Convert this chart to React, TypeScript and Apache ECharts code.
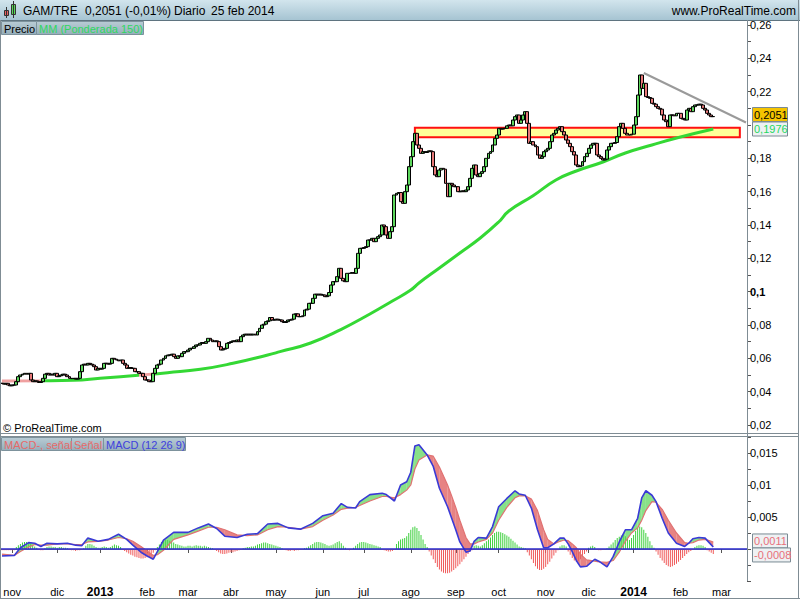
import React, { useEffect, useRef } from 'react';
import * as echarts from 'echarts';

const FONT = '"Liberation Sans", Arial, sans-serif';

// ---------- DATA ----------
const monthNames = ['ene', 'feb', 'mar', 'abr', 'may', 'jun', 'jul', 'ago', 'sep', 'oct', 'nov', 'dic'];
const firstDay = Date.UTC(2012, 9, 25);
const slotCount = 365;

// daily closes, 25 oct 2012 .. 25 feb 2014
const closes = [
  0.045, 0.0445, 0.045, 0.044, 0.0435, 0.044, 0.044, 0.046, 0.049, 0.050,
  0.0505, 0.051, 0.0505, 0.051, 0.047, 0.046, 0.0465, 0.046, 0.0455, 0.046,
  0.048, 0.0505, 0.051, 0.050, 0.0505, 0.050, 0.051, 0.049, 0.0495, 0.050,
  0.0505, 0.050, 0.049, 0.048, 0.0478, 0.048, 0.0475, 0.048, 0.052, 0.056,
  0.0565, 0.056, 0.057, 0.0565, 0.056, 0.055, 0.053, 0.054, 0.0535, 0.054,
  0.057, 0.057, 0.0565, 0.057, 0.060, 0.0595, 0.059, 0.0585, 0.059, 0.057,
  0.056, 0.054, 0.0545, 0.054, 0.054, 0.052, 0.052, 0.051, 0.051, 0.049,
  0.047, 0.047, 0.046, 0.046, 0.051, 0.054, 0.056, 0.0565, 0.059, 0.060,
  0.0615, 0.062, 0.062, 0.0625, 0.061, 0.060, 0.0615, 0.061, 0.063, 0.064,
  0.064, 0.065, 0.066, 0.066, 0.067, 0.068, 0.068, 0.069, 0.0695, 0.069,
  0.070, 0.072, 0.071, 0.070, 0.0705, 0.070, 0.067, 0.065, 0.0655, 0.066,
  0.069, 0.0695, 0.070, 0.0705, 0.070, 0.071, 0.070, 0.073, 0.074, 0.0745,
  0.074, 0.0745, 0.074, 0.0745, 0.074, 0.076, 0.078, 0.080, 0.0805, 0.082,
  0.0825, 0.0845, 0.083, 0.083, 0.0835, 0.083, 0.083, 0.082, 0.0815, 0.082,
  0.083, 0.083, 0.0835, 0.0865, 0.0867, 0.085, 0.085, 0.0855, 0.089, 0.0895,
  0.093, 0.093, 0.096, 0.0985, 0.098, 0.0985, 0.098, 0.098, 0.097, 0.0975,
  0.0995, 0.104, 0.106, 0.106, 0.109, 0.114, 0.108, 0.1065, 0.106, 0.111,
  0.111, 0.1115, 0.111, 0.114, 0.123, 0.126, 0.126, 0.1265, 0.127, 0.131,
  0.131, 0.132, 0.130, 0.132, 0.133, 0.134, 0.140, 0.139, 0.134, 0.132,
  0.136, 0.139, 0.158, 0.159, 0.1595, 0.154, 0.153, 0.160, 0.164, 0.175,
  0.181, 0.190, 0.195, 0.188, 0.186, 0.183, 0.184, 0.1835, 0.184, 0.1845,
  0.184, 0.175, 0.170, 0.169, 0.173, 0.174, 0.1735, 0.165, 0.157, 0.165,
  0.164, 0.163, 0.163, 0.160, 0.160, 0.1605, 0.160, 0.161, 0.163, 0.168,
  0.174, 0.176, 0.170, 0.169, 0.171, 0.172, 0.175, 0.180, 0.183, 0.184,
  0.188, 0.192, 0.194, 0.198, 0.1975, 0.198, 0.198, 0.1995, 0.200, 0.1995,
  0.203, 0.205, 0.206, 0.201, 0.203, 0.206, 0.208, 0.201, 0.189, 0.190,
  0.188, 0.187, 0.182, 0.180, 0.181, 0.184, 0.185, 0.186, 0.190, 0.194,
  0.195, 0.197, 0.198, 0.199, 0.196, 0.194, 0.191, 0.189, 0.187, 0.184,
  0.182, 0.176, 0.175, 0.1755, 0.178, 0.181, 0.183, 0.186, 0.188, 0.189,
  0.189, 0.182, 0.181, 0.180, 0.179, 0.1795, 0.185, 0.187, 0.189, 0.189,
  0.1895, 0.193, 0.199, 0.201, 0.198, 0.195, 0.194, 0.194, 0.1945, 0.200,
  0.205, 0.218, 0.230, 0.222, 0.225, 0.217, 0.2165, 0.216, 0.213, 0.2125,
  0.211, 0.210, 0.2095, 0.206, 0.203, 0.202, 0.199, 0.206, 0.206, 0.2055,
  0.207, 0.207, 0.204, 0.2035, 0.203, 0.209, 0.210, 0.208, 0.211, 0.212,
  0.212, 0.2125, 0.212, 0.210, 0.209, 0.207, 0.206, 0.205, 0.2051,
];

// weighted moving average 150 [day index, value]
const maPoints = [
  [0, 0.0464], [19, 0.0465], [35, 0.0468], [48, 0.048], [68, 0.05], [81, 0.0514],
  [97, 0.0534], [113, 0.057], [130, 0.062], [136, 0.064], [151, 0.0692], [166, 0.0774],
  [180, 0.0866], [191, 0.0944], [200, 0.101], [204, 0.1052], [214, 0.1142], [224, 0.1232],
  [234, 0.1322], [243, 0.1418], [248, 0.1484], [260, 0.1577], [271, 0.167], [281, 0.1724],
  [294, 0.1778], [305, 0.1832], [318, 0.188], [331, 0.1925], [348, 0.1976],
];
// day ranges where the average is drawn pink
const maPinkRanges = [[0, 19], [67, 75]];

// zone and trend line
const zoneLow = 0.1926;
const zoneHigh = 0.1984;
const zoneFrom = 202;
const zoneTo = 361;
const trendFrom = [314, 0.2312];
const trendTo = [364, 0.2015];

// MACD (12 26 9) and signal, at these day indexes
const macdIdx = [0, 6, 9, 13, 16, 19, 22, 27, 32, 36, 39, 42, 47, 52, 57, 61, 64, 68, 71, 74, 76, 79, 84, 91, 96, 101, 105, 109, 115, 120, 125, 130, 135, 140, 146, 152, 157, 162, 166, 169, 173, 175, 180, 186, 188, 192, 195, 198, 200, 202, 204, 208, 211, 214, 218, 220, 222, 224, 227, 229, 231, 233, 237, 240, 243, 247, 251, 253, 256, 259, 262, 265, 267, 270, 273, 275, 277, 279, 281, 283, 286, 290, 292, 296, 299, 302, 305, 308, 311, 313, 315, 318, 320, 323, 326, 330, 334, 336, 338, 341, 344, 346, 348];
const macdVals = [-0.0011, -0.0010, 0.0002, 0.0010, 0.0009, 0.0004, 0.0009, 0.0008, 0.0009, 0.0006, 0.0005, 0.0017, 0.0012, 0.0015, 0.0023, 0.0015, 0.0006, -0.0005, -0.0011, -0.0016, -0.0004, 0.0014, 0.0026, 0.0026, 0.0033, 0.0039, 0.0032, 0.0020, 0.0018, 0.0023, 0.0024, 0.0039, 0.0040, 0.0033, 0.0031, 0.0040, 0.0052, 0.0056, 0.0071, 0.0065, 0.0064, 0.0074, 0.0085, 0.0087, 0.0085, 0.0075, 0.0100, 0.0105, 0.0120, 0.0161, 0.0163, 0.0147, 0.0129, 0.0095, 0.0066, 0.0048, 0.0030, 0.0011, -0.0005, -0.0003, 0.0012, 0.0018, 0.0017, 0.0035, 0.0066, 0.0079, 0.0091, 0.0086, 0.0084, 0.0064, 0.0030, 0.0002, 0.0002, 0.0008, 0.0017, 0.0017, 0.0008, -0.0004, -0.0018, -0.0028, -0.0027, -0.0016, -0.0019, -0.0028, -0.0012, 0.0011, 0.0030, 0.0030, 0.0048, 0.0080, 0.0091, 0.0084, 0.0074, 0.0048, 0.0025, 0.0009, 0.0004, 0.0009, 0.0016, 0.0018, 0.0017, 0.0010, 0.0003];
const signalVals = [-0.0008, -0.0010, -0.0004, 0.0003, 0.0007, 0.0006, 0.0006, 0.0008, 0.0008, 0.0007, 0.0007, 0.0011, 0.0012, 0.0014, 0.0018, 0.0016, 0.0012, 0.0004, -0.0003, -0.0010, -0.0009, -0.0002, 0.0015, 0.0022, 0.0028, 0.0034, 0.0034, 0.0030, 0.0022, 0.0021, 0.0022, 0.0030, 0.0035, 0.0034, 0.0031, 0.0035, 0.0045, 0.0053, 0.0062, 0.0064, 0.0065, 0.0068, 0.0075, 0.0082, 0.0082, 0.0080, 0.0085, 0.0092, 0.0100, 0.0125, 0.0139, 0.0147, 0.0145, 0.0128, 0.0100, 0.0083, 0.0065, 0.0045, 0.0018, 0.0008, 0.0008, 0.0011, 0.0015, 0.0025, 0.0045, 0.0065, 0.0080, 0.0083, 0.0083, 0.0078, 0.0060, 0.0030, 0.0015, 0.0008, 0.0012, 0.0014, 0.0013, 0.0008, 0.0002, -0.0008, -0.0017, -0.0019, -0.0020, -0.0021, -0.0018, -0.0005, 0.0012, 0.0025, 0.0033, 0.0045, 0.0060, 0.0074, 0.0073, 0.0062, 0.0045, 0.0025, 0.0010, 0.0009, 0.0010, 0.0014, 0.0015, 0.0013, 0.0011];

// daily histogram "MACD-, señal"
const histogram = [
  -0.0002, -0.0002, -0.0002, -0.0002, -0.0002, -0.0002, -0.0002,
  0.0003, 0.0006, 0.0008, 0.0010, 0.0011, 0.0011, 0.0010, 0.0008, 0.0006, 0.0004,
  0.0002, -0.0001, -0.0002, -0.0002, 0.0001,
  0.0003, 0.0004, 0.0004, 0.0003, 0.0003, 0.0002, 0.0003, 0.0003, 0.0002, 0.0002, 0.0001,
  -0.0001, -0.0002, -0.0002, -0.0003, -0.0002, -0.0002, -0.0001, 0.0001,
  0.0005, 0.0008, 0.0008, 0.0007, 0.0005, 0.0003, 0.0002,
  0.0002, 0.0003, 0.0004, 0.0003, 0.0002, 0.0003, 0.0005, 0.0007, 0.0006, 0.0005, 0.0003,
  -0.0001, -0.0003, -0.0005, -0.0007, -0.0009, -0.0010, -0.0012, -0.0013, -0.0014, -0.0015, -0.0015, -0.0014, -0.0013, -0.0012, -0.0010, -0.0006, -0.0002,
  0.0003, 0.0007, 0.0011, 0.0013, 0.0014, 0.0014, 0.0013, 0.0012, 0.0010, 0.0008, 0.0007, 0.0006, 0.0005, 0.0004,
  0.0004, 0.0005, 0.0005, 0.0004, 0.0005, 0.0006, 0.0005, 0.0005, 0.0004, 0.0005, 0.0004, 0.0003, 0.0002, 0.0001, -0.0001,
  -0.0003, -0.0005, -0.0007, -0.0008, -0.0008, -0.0007, -0.0006, -0.0005, -0.0005, -0.0004, -0.0003, -0.0002, -0.0001, 0.0001,
  0.0002, 0.0003, 0.0003, 0.0004, 0.0004, 0.0005, 0.0007, 0.0008, 0.0009, 0.0010, 0.0010, 0.0009, 0.0008, 0.0007, 0.0006, 0.0005, 0.0004, 0.0003, 0.0001,
  -0.0001, -0.0002, -0.0003, -0.0003, -0.0002, -0.0003, -0.0002, -0.0002, -0.0001, -0.0001, 0.0001, 0.0002,
  0.0004, 0.0006, 0.0008, 0.0010, 0.0011, 0.0011, 0.0010, 0.0009, 0.0008, 0.0006, 0.0005, 0.0006, 0.0007, 0.0009, 0.0011, 0.0012, 0.0009, 0.0005, 0.0002,
  -0.0001, -0.0002, -0.0001,
  0.0002, 0.0005, 0.0008, 0.0010, 0.0011, 0.0011, 0.0010, 0.0009, 0.0008, 0.0007, 0.0006, 0.0005, 0.0004, 0.0003,
  -0.0001, -0.0002, -0.0003, -0.0004, -0.0004, -0.0003, -0.0001,
  0.0008, 0.0012, 0.0015, 0.0016, 0.0017, 0.0020, 0.0025, 0.0030, 0.0034, 0.0035, 0.0033, 0.0028, 0.0022, 0.0015, 0.0008, 0.0003,
  -0.0004, -0.0010, -0.0016, -0.0022, -0.0028, -0.0032, -0.0035, -0.0037, -0.0038, -0.0038, -0.0037, -0.0035, -0.0033, -0.0030, -0.0027, -0.0024, -0.0020, -0.0016, -0.0012, -0.0008, -0.0004,
  -0.0002, 0.0005, 0.0006, 0.0005,
  0.0004, 0.0006, 0.0009, 0.0012, 0.0015, 0.0018, 0.0022, 0.0025, 0.0027, 0.0027, 0.0026, 0.0025, 0.0023, 0.0021, 0.0019, 0.0016, 0.0013, 0.0010, 0.0007,
  0.0004, 0.0003, 0.0002, 0.0001,
  -0.0005, -0.0010, -0.0016, -0.0022, -0.0027, -0.0031, -0.0033, -0.0033, -0.0031, -0.0028, -0.0024, -0.0020, -0.0015, -0.0010, -0.0006, -0.0002,
  0.0004, 0.0006, 0.0006, 0.0004,
  -0.0004, -0.0009, -0.0014, -0.0018, -0.0020, -0.0019, -0.0016, -0.0012, -0.0008, -0.0004,
  0.0002, 0.0004, 0.0005, 0.0003,
  -0.0001, -0.0002, -0.0002, -0.0001, -0.0001, 0.0001,
  0.0004, 0.0007, 0.0010, 0.0014, 0.0017, 0.0019, 0.0021, 0.0022, 0.0020, 0.0016, 0.0014, 0.0017, 0.0022, 0.0028, 0.0033, 0.0035, 0.0034, 0.0030, 0.0025, 0.0019, 0.0012, 0.0006, 0.0002,
  -0.0004, -0.0009, -0.0014, -0.0018, -0.0022, -0.0025, -0.0027, -0.0028, -0.0027, -0.0025, -0.0023, -0.0020, -0.0017, -0.0014, -0.0011, -0.0008, -0.0005, -0.0003, -0.0001,
  0.0003, 0.0005, 0.0006, 0.0006, 0.0005, 0.0003,
  -0.0002, -0.0004, -0.0006, -0.0008,
];

const lastPrice = 0.2051;
const lastMa = 0.1976;
const lastSignal = 0.0011;
const lastHist = -0.0008;

// ---------- helpers ----------
const dates: Date[] = [];
for (let t = firstDay; dates.length < slotCount; t += 86400000) {
  const d = new Date(t);
  const wd = d.getUTCDay();
  if (wd !== 0 && wd !== 6) dates.push(d);
}
const categories = dates.map((d) => d.toISOString().slice(0, 10));
const isMonthStart = dates.map((d, i) => i > 0 && d.getUTCMonth() !== dates[i - 1].getUTCMonth());

const candles = closes.map((c, i) => {
  const o = i === 0 ? c : closes[i - 1];
  return [o, c, Math.min(o, c), Math.max(o, c)];
});

const GREEN_MA = '#34d834';
const PINK_MA = '#f0a0a0';
const FILL_GREEN = 'rgba(90,214,90,0.72)';
const FILL_RED = 'rgba(224,96,96,0.78)';

function buildOption(): any {
  const pieces: any[] = [];
  let prev = -1;
  maPinkRanges.forEach(([a, b]) => {
    if (a > prev) pieces.push({ gte: prev, lt: a, color: GREEN_MA });
    pieces.push({ gte: a, lt: b, color: PINK_MA });
    prev = b;
  });
  pieces.push({ gte: prev, lte: 1000, color: GREEN_MA });

  return {
    animation: false,
    backgroundColor: '#ffffff',
    textStyle: { fontFamily: FONT },
    grid: [
      { left: 1, right: 53, top: 25, height: 400 },
      { left: 1, right: 53, top: 437, height: 144 },
    ],
    visualMap: [{ type: 'piecewise', show: false, seriesIndex: 1, dimension: 0, pieces }],
    xAxis: [
      {
        type: 'category', gridIndex: 0, data: categories, boundaryGap: true,
        axisLine: { show: false }, axisTick: { show: false }, axisLabel: { show: false }, splitLine: { show: false },
      },
      {
        type: 'category', gridIndex: 1, data: categories, boundaryGap: true,
        axisLine: { show: true, lineStyle: { color: '#7f8c94', width: 1 } },
        axisTick: { show: true, alignWithLabel: true, length: 4, lineStyle: { color: '#555' }, interval: (i: number) => isMonthStart[i] },
        axisLabel: {
          show: true, interval: (i: number) => isMonthStart[i], margin: 5,
          color: '#000', fontSize: 11, fontFamily: FONT,
          formatter: (_v: string, i: number) => {
            const d = dates[i];
            const m = d.getUTCMonth();
            return m === 0 ? `{y|${d.getUTCFullYear()}}` : monthNames[m];
          },
          rich: { y: { fontWeight: 'bold', fontSize: 12, color: '#000', fontFamily: FONT } },
        },
        splitLine: { show: false },
      },
    ],
    yAxis: [
      {
        type: 'value', gridIndex: 0, position: 'right', min: 0.02, max: 0.26, interval: 0.01,
        axisLine: { show: false }, splitLine: { show: false },
        axisTick: { show: true, length: 4, lineStyle: { color: '#555' } },
        axisLabel: {
          color: '#000', fontSize: 11, fontFamily: FONT, margin: 3,
          formatter: (v: number) => {
            const k = Math.round(v * 100);
            // 0,20 sits under the last-price tags
            if (k % 2 !== 0 || k === 20) return '';
            const s = String(k / 100).replace('.', ',');
            return k === 10 ? `{b|${s}}` : s;
          },
          rich: { b: { fontWeight: 'bold', fontSize: 11, color: '#000', fontFamily: FONT } },
        },
      },
      {
        type: 'value', gridIndex: 1, position: 'right', min: -0.005, max: 0.0175, interval: 0.0025,
        axisLine: { show: false }, splitLine: { show: false },
        axisTick: { show: true, length: 4, lineStyle: { color: '#555' } },
        axisLabel: {
          color: '#000', fontSize: 11, fontFamily: FONT, margin: 3,
          formatter: (v: number) => {
            const k = Math.round(v * 10000);
            if (k <= 0 || k % 50 !== 0) return '';
            return String(k / 10000).replace('.', ',');
          },
        },
      },
    ],
    series: [
      {
        type: 'candlestick', name: 'Precio', xAxisIndex: 0, yAxisIndex: 0, data: candles, barWidth: 3.4, z: 4,
        itemStyle: { color: '#5cd65c', color0: '#e87878', borderColor: '#000', borderColor0: '#000', borderColorDoji: '#000', borderWidth: 1 },
        markArea: {
          silent: true,
          itemStyle: { color: '#ffff99', borderColor: '#ff1010', borderWidth: 2 },
          data: [[{ coord: [zoneFrom, zoneHigh] }, { coord: [zoneTo, zoneLow] }]],
        },
        markLine: {
          silent: true, symbol: ['none', 'none'], label: { show: false },
          lineStyle: { color: '#9a9a9a', width: 2, type: 'solid' },
          data: [[{ coord: trendFrom }, { coord: trendTo }]],
        },
      },
      {
        type: 'line', name: 'MM', xAxisIndex: 0, yAxisIndex: 0, data: maPoints, smooth: true,
        symbol: 'none', showSymbol: false, lineStyle: { width: 3 }, z: 3,
      },
      {
        type: 'bar', name: 'MACD-, señal', xAxisIndex: 1, yAxisIndex: 1, data: histogram, barWidth: 1, z: 1,
        itemStyle: { color: (p: any) => (p.value >= 0 ? '#3fd03f' : '#f05a5a') },
      },
      {
        type: 'custom', name: 'fill', xAxisIndex: 1, yAxisIndex: 1, z: 2, clip: true,
        data: macdIdx.slice(0, -1).map((x, k) => [x, macdVals[k]]),
        encode: { x: 0, y: 1 },
        renderItem: (params: any, api: any) => {
          const k = params.dataIndex;
          const a0 = api.coord([macdIdx[k], macdVals[k]]);
          const a1 = api.coord([macdIdx[k + 1], macdVals[k + 1]]);
          const b0 = api.coord([macdIdx[k], signalVals[k]]);
          const b1 = api.coord([macdIdx[k + 1], signalVals[k + 1]]);
          const d0 = macdVals[k] - signalVals[k];
          const d1 = macdVals[k + 1] - signalVals[k + 1];
          const poly = (pts: number[][], c: string) => ({ type: 'polygon', shape: { points: pts }, style: { fill: c } });
          const children: any[] = [];
          if (d0 * d1 >= 0) {
            children.push(poly([a0, a1, b1, b0], d0 + d1 >= 0 ? FILL_GREEN : FILL_RED));
          } else {
            const t = d0 / (d0 - d1);
            const c = [a0[0] + t * (a1[0] - a0[0]), a0[1] + t * (a1[1] - a0[1])];
            children.push(poly([a0, c, b0], d0 > 0 ? FILL_GREEN : FILL_RED));
            children.push(poly([c, a1, b1], d1 > 0 ? FILL_GREEN : FILL_RED));
          }
          return { type: 'group', children };
        },
      },
      {
        type: 'line', name: 'Señal', xAxisIndex: 1, yAxisIndex: 1, data: macdIdx.map((x, k) => [x, signalVals[k]]),
        symbol: 'none', showSymbol: false, lineStyle: { color: '#e07272', width: 1.2 }, z: 3,
      },
      {
        type: 'line', name: 'MACD (12 26 9)', xAxisIndex: 1, yAxisIndex: 1, data: macdIdx.map((x, k) => [x, macdVals[k]]),
        symbol: 'none', showSymbol: false, lineStyle: { color: '#3a3ad6', width: 1.6 }, z: 4,
        markLine: {
          silent: true, symbol: ['none', 'none'], label: { show: false },
          lineStyle: { color: '#2a2acc', width: 1.5, type: 'solid' },
          data: [{ yAxis: 0 }],
        },
      },
    ],
  };
}

function txt(x: number, y: number, text: string, o: any = {}) {
  return {
    type: 'text', x, y, z: 120, silent: true,
    style: {
      text, fill: o.fill || '#000', font: `${o.weight || 'normal'} ${o.size || 11}px ${FONT}`,
      textAlign: o.align || 'left', align: o.align || 'left', textVerticalAlign: 'middle', verticalAlign: 'middle',
    },
  };
}
function rect(x: number, y: number, w: number, h: number, fill: any, stroke?: string) {
  return { type: 'rect', z: 110, silent: true, shape: { x, y, width: w, height: h }, style: { fill, stroke: stroke || null, lineWidth: 1 } };
}
function line(x1: number, y1: number, x2: number, y2: number, color: string, w = 1) {
  return { type: 'line', z: 115, silent: true, shape: { x1, y1, x2, y2 }, style: { stroke: color, lineWidth: w } };
}
function tabGrad() {
  return new echarts.graphic.LinearGradient(0, 0, 0, 1, [{ offset: 0, color: '#b9ccd5' }, { offset: 1, color: '#95aebb' }]);
}

function buildGraphic(yP: (v: number) => number, yM: (v: number) => number) {
  const frame = '#7f8c94';
  const g: any[] = [];
  // header
  g.push(rect(0, 0, 800, 20, new echarts.graphic.LinearGradient(0, 0, 0, 1, [{ offset: 0, color: '#d2e5ed' }, { offset: 1, color: '#a6c4d2' }])));
  g.push(line(0, 20.5, 800, 20.5, '#5f7480'));
  // icon
  g.push(line(6.5, 7, 6.5, 18, '#333'));
  g.push(rect(4.5, 10.5, 4, 5, '#e86060', '#333'));
  g.push(line(13.5, 1, 13.5, 18, '#333'));
  g.push(rect(11.5, 4.5, 4, 10, '#55dd55', '#333'));
  g.push(txt(23, 11, 'GAM/TRE', { size: 12 }));
  g.push(txt(85, 11, '0,2051 (-0,01%)', { size: 12 }));
  g.push(txt(174, 11, 'Diario', { size: 12 }));
  g.push(txt(211, 11, '25 feb 2014', { size: 12 }));
  g.push(txt(796, 11, 'www.ProRealTime.com', { size: 12, align: 'right' }));
  // borders
  g.push(line(0.5, 20, 0.5, 599, frame));
  g.push(line(798.5, 0, 798.5, 599, frame));
  g.push(line(0, 598.5, 800, 598.5, frame));
  g.push(line(747.5, 20, 747.5, 581, frame));
  g.push(line(0, 433.5, 799, 433.5, frame));
  g.push(line(0, 436.5, 799, 436.5, frame));
  // price tabs
  g.push(rect(1.5, 21.5, 35, 13, tabGrad(), '#7d929c'));
  g.push(txt(4, 28.5, 'Precio'));
  g.push(rect(36.5, 21.5, 107, 13, tabGrad(), '#7d929c'));
  g.push(txt(39, 28.5, 'MM (Ponderada 150)', { fill: '#2fd860' }));
  // macd tabs
  g.push(rect(1.5, 437.5, 70, 13, tabGrad(), '#7d929c'));
  g.push(txt(4, 444.5, 'MACD-, señal', { fill: '#e66a6a' }));
  g.push(rect(71.5, 437.5, 32, 13, tabGrad(), '#7d929c'));
  g.push(txt(74, 444.5, 'Señal', { fill: '#e66a6a' }));
  g.push(rect(103.5, 437.5, 82, 13, tabGrad(), '#7d929c'));
  g.push(txt(106, 444.5, 'MACD (12 26 9)', { fill: '#4040dd' }));
  // copyright
  g.push(txt(3, 428, '© ProRealTime.com'));
  // price tags
  const y1 = yP(lastPrice) - 2;
  const y2 = Math.max(yP(lastMa), y1 + 14);
  g.push(rect(752.5, y1 - 7, 35, 14, '#f5c400', '#7a8a94'));
  g.push(txt(754, y1, '0,2051'));
  g.push(rect(752.5, y2 - 7, 35, 14, '#eef1f3', '#7a8a94'));
  g.push(txt(754, y2, '0,1976', { fill: '#1ed760' }));
  // macd tags
  const y3 = yM(lastSignal) - 1;
  const y4 = Math.max(yM(lastHist), y3 + 14);
  g.push(rect(752.5, y3 - 7, 35, 14, '#eef1f3', '#7a8a94'));
  g.push(txt(754, y3, '0,0011', { fill: '#e8707a' }));
  g.push(rect(752.5, y4 - 7, 38, 14, '#eef1f3', '#7a8a94'));
  g.push(txt(754, y4, '-0,0008', { fill: '#e8707a' }));
  return g;
}

export default function App() {
  const ref = useRef<HTMLDivElement>(null);
  useEffect(() => {
    document.body.style.margin = '0';
    const chart = echarts.init(ref.current as HTMLDivElement, null, { renderer: 'svg' });
    chart.setOption(buildOption());
    const yP = (v: number) => chart.convertToPixel({ yAxisIndex: 0 }, v) as unknown as number;
    const yM = (v: number) => chart.convertToPixel({ yAxisIndex: 1 }, v) as unknown as number;
    chart.setOption({ graphic: buildGraphic(yP, yM) });
    return () => chart.dispose();
  }, []);
  return <div ref={ref} style={{ position: 'absolute', left: 0, top: 0, width: 800, height: 600 }} />;
}
